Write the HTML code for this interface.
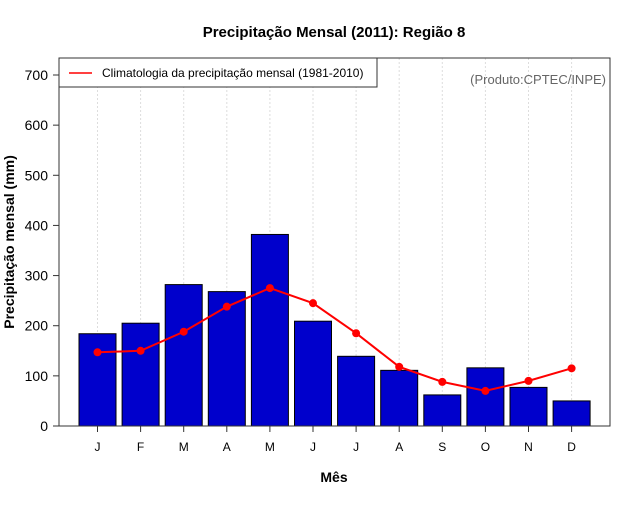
<!DOCTYPE html>
<html><head><meta charset="utf-8"><style>
body{margin:0;background:#fff}
svg text{font-family:"Liberation Sans",sans-serif}
</style></head><body>
<svg id="chart" width="640" height="500" xmlns="http://www.w3.org/2000/svg">
<rect width="640" height="500" fill="#fff"/>
<text x="334" y="37" text-anchor="middle" font-size="15" font-weight="bold">Precipitação Mensal (2011): Região 8</text>
<text x="334" y="482" text-anchor="middle" font-size="14" font-weight="bold">Mês</text>
<text transform="translate(14,242) rotate(-90)" text-anchor="middle" font-size="14" font-weight="bold">Precipitação mensal (mm)</text>
<g id="grid"></g><g id="bars"></g><g id="line"></g><g id="axes"></g>
<rect x="59" y="58" width="551" height="368" fill="none" stroke="#333" stroke-width="1"/>
<g>
<rect x="59" y="58" width="318" height="29" fill="#fff" stroke="#333"/>
<line x1="69" y1="73" x2="92" y2="73" stroke="red" stroke-width="1.5"/>
<text x="102" y="77" font-size="12">Climatologia da precipitação mensal (1981-2010)</text>
</g>
<text x="606" y="84" text-anchor="end" font-size="13" fill="#666">(Produto:CPTEC/INPE)</text>
</svg>
<script>
const months=["J","F","M","A","M","J","J","A","S","O","N","D"];
const observed=[184,205,282,268,382,209,139,111,62,116,77,50];
const climatology=[147,150,188,238,275,245,185,118,88,70,90,115];
const yTicks=[0,100,200,300,400,500,600,700];
const NS="http://www.w3.org/2000/svg";
const x=i=>97.5+i*43.1;
const y=v=>426-v*(351/700);
function mk(t,a,p){const e=document.createElementNS(NS,t);for(const k in a)e.setAttribute(k,a[k]);p.appendChild(e);return e;}
const g=document.getElementById('grid'),b=document.getElementById('bars'),l=document.getElementById('line'),ax=document.getElementById('axes');
months.forEach((m,i)=>{
 const gl=mk('line',{x1:x(i),x2:x(i),y1:58,y2:426,stroke:'#ddd','stroke-dasharray':'2,2'},g);
 
 
 const r=mk('rect',{x:x(i)-18.5,y:y(observed[i]),width:37,height:426-y(observed[i]),fill:'#0000cc',stroke:'#000','stroke-width':1},b);
 
 
 const t=mk('line',{x1:x(i),x2:x(i),y1:426,y2:432,stroke:'#333'},ax);
 
 
 const tl=mk('text',{x:x(i),y:451,'text-anchor':'middle','font-size':12},ax);
 tl.textContent=m;
 
 
});
const pl=mk('polyline',{points:climatology.map((v,i)=>x(i)+','+y(v)).join(' '),fill:'none',stroke:'red','stroke-width':2},l);


climatology.forEach((v,i)=>{
 const c=mk('circle',{cx:x(i),cy:y(v),r:4,fill:'red'},l);
 
 
});
yTicks.forEach(v=>{
 const t=mk('line',{x1:53,x2:59,y1:y(v),y2:y(v),stroke:'#333'},ax);
 
 
 const tl=mk('text',{x:48,y:y(v)+5,'text-anchor':'end','font-size':14},ax);
 tl.textContent=v;
 
 
});
</script>
</body></html>
